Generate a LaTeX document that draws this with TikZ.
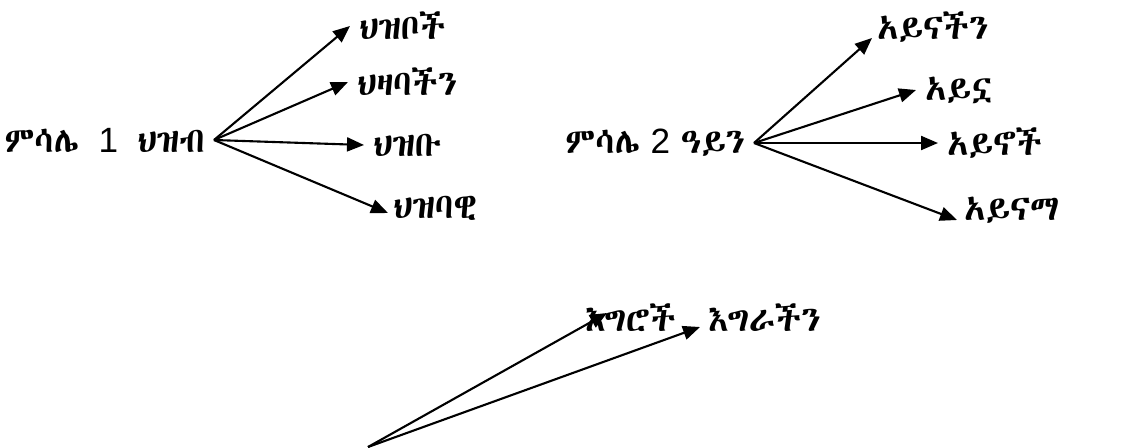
\documentclass[tikz,border=0pt]{standalone}
\usepackage{fontspec}
\usetikzlibrary{arrows.meta, calc}
\IfFontExistsTF{Abyssinica SIL}{\newfontfamily\geez{Abyssinica SIL}}{%
  \IfFontExistsTF{Noto Sans Ethiopic}{\newfontfamily\geez{Noto Sans Ethiopic}}{\newfontfamily\geez{FreeSerif}}}
\newfontfamily\digits{Liberation Sans}

\begin{document}
\begin{tikzpicture}[
    x=0.02cm, y=-0.02cm,
    word/.style={inner xsep=5pt, inner ysep=2pt, font=\geez\fontsize{20}{24}\selectfont},
    arrow/.style={-{Triangle[length=3.4mm, width=2.8mm]}, line width=1.2pt}
]
\useasboundingbox (0,0) rectangle (1141,447);
% example 1
\node[word, anchor=east] (src1) at (214,140) {ምሳሌ\hspace{0.55em}{\digits 1}\hspace{0.55em}ህዝብ};
\node[word, anchor=west] (a1) at (350,26) {ህዝቦች};
\node[word, anchor=west] (a2) at (348,82) {ህዛባችን};
\node[word, anchor=west] (a3) at (364,145) {ህዝቡ};
\node[word, anchor=west] (a4) at (384,208) {ህዝባዊ};
\draw[arrow] (src1.east) -- (a1.west);
\draw[arrow] (src1.east) -- (a2.west);
\draw[arrow] (src1.east) -- (a3.west);
\draw[arrow] (src1.east) -- ($(a4.west)+(4,5)$);
% example 2
\node[word, anchor=east] (src2) at (754,143) {ምሳሌ\hspace{0.3em}{\digits 2}\hspace{0.3em}ዓይን};
\node[word, anchor=west] (b1) at (868,27) {አይናችን};
\node[word, anchor=west] (b2) at (916,90) {አይኗ};
\node[word, anchor=west] (b3) at (938,143) {አይኖች};
\node[word, anchor=west] (b4) at (955,210) {አይናማ};
\draw[arrow] (src2.east) -- ($(b1.west)+(4,11)$);
\draw[arrow] (src2.east) -- (b2.west);
\draw[arrow] (src2.east) -- (b3.west);
\draw[arrow] (src2.east) -- ($(b4.west)+(2,10)$);
% example 3 (cut off)
\coordinate (src3) at (368,447);
\node[word, anchor=west] (c1) at (576,318) {እግሮች};
\node[word, anchor=west] (c2) at (699,318) {እግራችን};
\draw[arrow] (src3) -- ($(c1.west)+(31,-5)$);
\draw[arrow] (src3) -- ($(c2.west)+(1,9)$);
\end{tikzpicture}
\end{document}
